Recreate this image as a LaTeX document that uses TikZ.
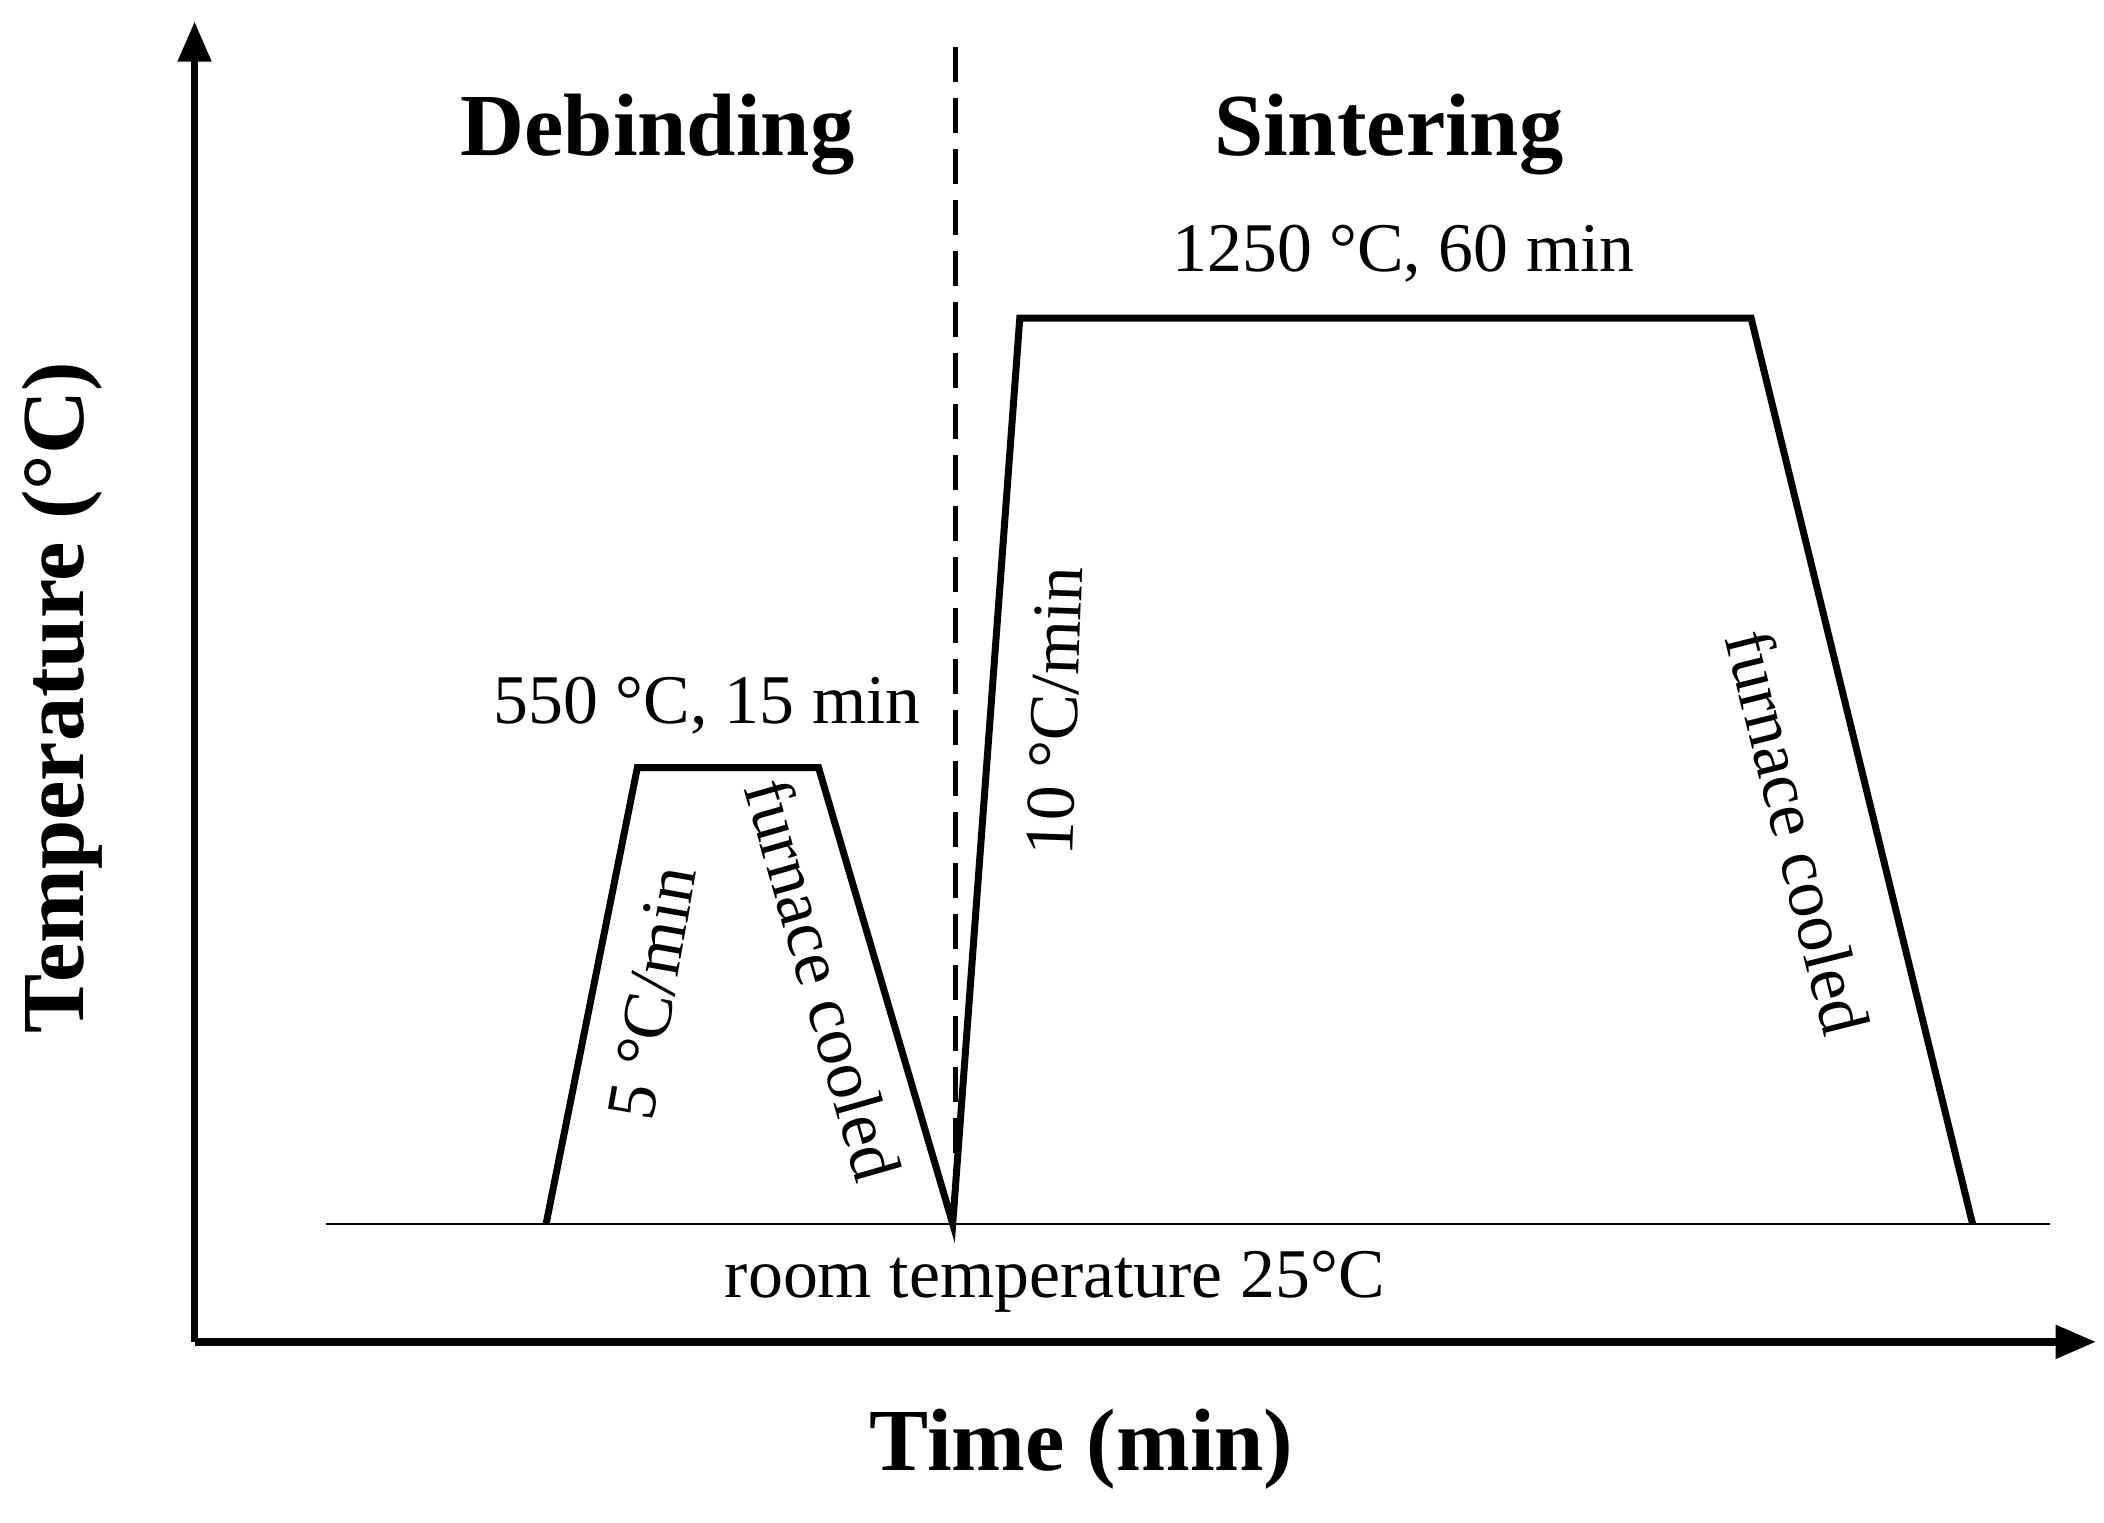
\documentclass[tikz,border=0pt]{standalone}
\usepackage{fontspec}
\setmainfont{Liberation Serif}
\usetikzlibrary{arrows.meta}
\begin{document}
\begin{tikzpicture}[x=0.5pt,y=-0.5pt,
  lbl/.style={font=\fontsize{26}{30}\selectfont,inner sep=0pt},
  big/.style={font=\bfseries\fontsize{33}{38}\selectfont,inner sep=0pt},
  prof/.style={line width=2.6pt,line join=miter}]
\useasboundingbox (0,0) rectangle (1568,1135);
\coordinate (o) at (145,1000);
\coordinate (ytip) at (145,16);
\coordinate (xtip) at (1562,1000);
\draw[line width=2.8pt,-{Triangle[length=15pt,width=12pt]}] (o) -- (ytip);
\draw[line width=2.8pt,-{Triangle[length=15pt,width=12pt]}] (o) -- (xtip);
\coordinate (b1) at (243,912); \coordinate (b2) at (1528,912);
\draw[line width=0.9pt] (b1) -- (b2);
\coordinate (p1) at (407,912); \coordinate (p2) at (475,572); \coordinate (p3) at (610,572);
\coordinate (p4) at (710,912); \coordinate (p5) at (760,237); \coordinate (p6) at (1305,237);
\coordinate (p7) at (1470,912);
\draw[prof] (p1)--(p2)--(p3)--(p4)--(p5)--(p6)--(p7);
\coordinate (d1) at (712,35); \coordinate (d2) at (712,905);
\draw[line width=1.6pt,dash pattern=on 13pt off 6pt] (d1) -- (d2);
\node[big] (deb) at (490,100) {Debinding};
\node[big] (sin) at (1035,100) {Sintering};
\node[lbl] (t1250) at (1046,189) {1250 °C, 60 min};
\node[lbl] (t550) at (527,526) {550 °C, 15 min};
\node[lbl,rotate=80] (r5) at (486,740) {5 °C/min};
\node[lbl,rotate=-74] (fc1) at (614,730) {furnace cooled};
\node[lbl,rotate=88] (r10) at (786,530) {10 °C/min};
\node[lbl,rotate=-76] (fc2) at (1340,620) {furnace cooled};
\node[lbl] (rt) at (786,955) {room temperature 25°C};
\node[big] (tx) at (806,1080) {Time (min)};
\node[big,rotate=90] (ty) at (46,520) {Temperature (°C)};
\end{tikzpicture}
\end{document}
